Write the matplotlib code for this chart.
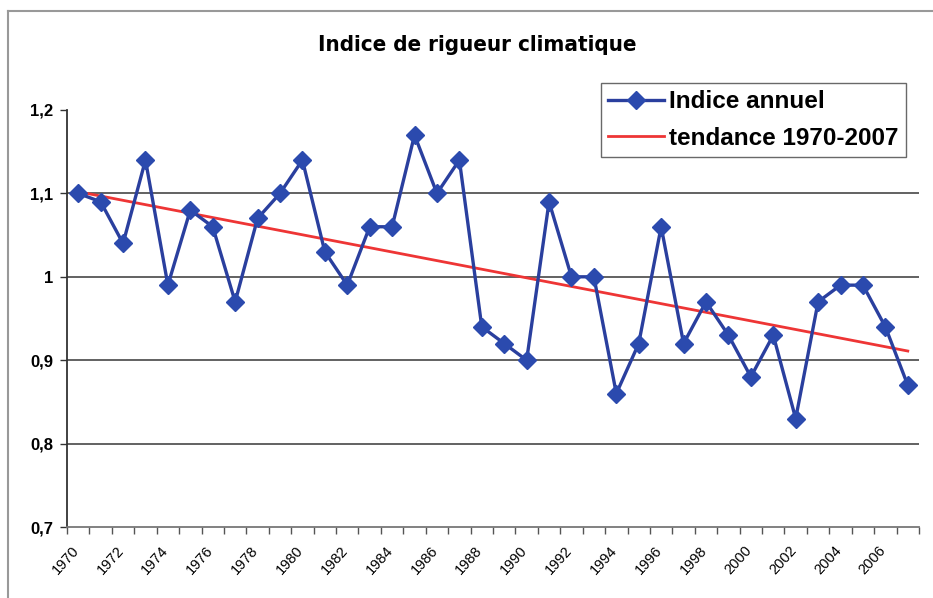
import matplotlib
matplotlib.use("Agg")
import matplotlib.pyplot as plt
from matplotlib.lines import Line2D
import matplotlib.transforms as mtransforms
import numpy as np

years = list(range(1970, 2008))
indice = [1.10, 1.09, 1.04, 1.14, 0.99, 1.08, 1.06, 0.97, 1.07, 1.10,
          1.14, 1.03, 0.99, 1.06, 1.06, 1.17, 1.10, 1.14, 0.94, 0.92,
          0.90, 1.09, 1.00, 1.00, 0.86, 0.92, 1.06, 0.92, 0.97, 0.93,
          0.88, 0.93, 0.83, 0.97, 0.99, 0.99, 0.94, 0.87]
trend_years = [1970, 2007]
trend_values = [1.102, 0.911]
ytick_vals = [0.7, 0.8, 0.9, 1.0, 1.1, 1.2]
ytick_labels = ["0,7", "0,8", "0,9", "1", "1,1", "1,2"]
xlabel_years = list(range(1970, 2007, 2))

plt.rcParams['font.family'] = ['Liberation Sans', 'DejaVu Sans']

W, H = 933, 598
fig = plt.figure(figsize=(W / 100, H / 100), dpi=100)
ax = fig.add_axes([67 / W, 1 - 527 / H, (919 - 67) / W, (527 - 110) / H])

ax.plot(years, indice, color='#2A3F9E', lw=2.4, marker='D', markersize=9.5,
        markerfacecolor='#2B4AAE', markeredgecolor='#2B4AAE', zorder=4,
        label='Indice annuel')
ax.plot(trend_years, trend_values, color='#EE3535', lw=2.0, zorder=3,
        label='tendance 1970-2007')

ax.set_xlim(1969.5, 2007.5)
ax.set_ylim(0.7, 1.2)
for v in ytick_vals[1:-1]:
    ax.axhline(v, color='#555555', lw=1.3, zorder=1)

ax.set_yticks(ytick_vals)
ax.set_yticklabels(ytick_labels, fontsize=12, fontweight='bold')
ax.tick_params(axis='y', direction='out', length=5, width=1, color='#333333', pad=5)

ax.set_xticks(np.arange(1969.5, 2008.0, 1.0))
ax.set_xticklabels([])
ax.tick_params(axis='x', which='major', direction='out', length=5, width=1, color='#555555')
ax.set_xticks(xlabel_years, minor=True)
ax.set_xticklabels([str(y) for y in xlabel_years], minor=True, fontsize=10.5,
                   rotation=48, ha='right', rotation_mode='anchor')
ax.tick_params(axis='x', which='minor', length=0, pad=12)
offset = mtransforms.ScaledTranslation(-7 / 100, 0, fig.dpi_scale_trans)
for lab in ax.get_xticklabels(minor=True):
    lab.set_transform(lab.get_transform() + offset)

for s in ['top', 'right']:
    ax.spines[s].set_visible(False)
ax.spines['left'].set_color('#333333')
ax.spines['left'].set_linewidth(1.3)
ax.spines['bottom'].set_color('#777777')
ax.spines['bottom'].set_linewidth(1.3)

fig.text(477 / W, 1 - 45 / H, 'Indice de rigueur climatique', ha='center', va='center',
         fontsize=16, fontweight='bold', family=['DejaVu Sans'], stretch='condensed')

leg = ax.legend(loc='upper right', bbox_to_anchor=((906 - 67) / (919 - 67), 1 + (110 - 83) / (527 - 110)),
                frameon=True, fancybox=False, prop={'size': 17.5, 'weight': 'bold'},
                handlelength=2.3, handletextpad=0.2, borderpad=0.3, labelspacing=0.55,
                borderaxespad=0)
leg.get_frame().set_edgecolor('#444444')
leg.get_frame().set_linewidth(1.0)

# figure border (left and top)
fig.add_artist(Line2D([8 / W, 8 / W], [0, 1 - 11 / H], color='#999999', lw=1.5))
fig.add_artist(Line2D([8 / W, 1], [1 - 11 / H, 1 - 11 / H], color='#999999', lw=1.5))

fig.savefig('out.png', dpi=100)
